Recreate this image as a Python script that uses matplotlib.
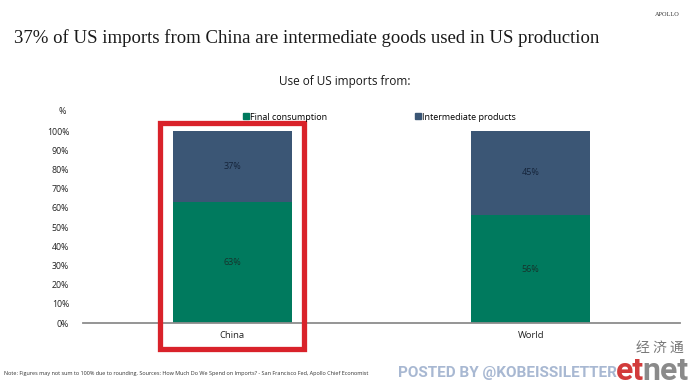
import matplotlib.pyplot as plt
from matplotlib.patches import Rectangle
from matplotlib.lines import Line2D

# data
categories = ['China', 'World']
final_consumption = [63, 56]
intermediate = [37, 45]
yticks = [0, 10, 20, 30, 40, 50, 60, 70, 80, 90, 100]

green = '#007a5e'
navy = '#3b5675'

plt.rcParams['font.family'] = ['Open Sans', 'DejaVu Sans']

fig = plt.figure(figsize=(6.9, 3.86), dpi=100)
ax = fig.add_axes([0.1203, 0.1632, 0.8652, 0.4974])

x = list(range(len(categories)))
ax.bar(x, final_consumption, width=0.4, color=green, zorder=2)
ax.bar(x, intermediate, width=0.4, bottom=final_consumption, color=navy, zorder=2)

for i in x:
    ax.text(i, final_consumption[i] / 2, f'{final_consumption[i]}%', ha='center', va='center',
            fontsize=6.5, color='#17332c')
    ax.text(i, final_consumption[i] + intermediate[i] / 2, f'{intermediate[i]}%', ha='center',
            va='center', fontsize=6.5, color='#15243a')

ax.set_xlim(-0.5, 1.5)
ax.set_ylim(0, 100)
ax.set_yticks(yticks)
ax.set_yticklabels([f'{t}%' for t in yticks], fontsize=6.3, color='#222222')
ax.set_xticks(x)
ax.set_xticklabels(categories, fontsize=6.8, color='#222222')
ax.tick_params(axis='y', length=0, pad=10)
ax.tick_params(axis='x', length=0, pad=6)
for s in ['top', 'right', 'left']:
    ax.spines[s].set_visible(False)
ax.spines['bottom'].set_color('#8c8c8c')
ax.spines['bottom'].set_linewidth(1.3)
ax.spines['bottom'].set_zorder(3)

# red highlight box around China
ax.add_patch(Rectangle((-0.243, -13.5), 0.483, 117.7, fill=False, edgecolor='#d9222a',
                       linewidth=3.8, clip_on=False, zorder=4))

fig.text(62 / 690, 1 - 111 / 386, '%', fontsize=6.5, ha='center', va='center', color='#222222')

handles = [Line2D([], [], marker='s', linestyle='', color=green, markersize=4),
           Line2D([], [], marker='s', linestyle='', color=navy, markersize=4)]
fig.legend(handles, ['Final consumption', 'Intermediate products'], loc='center',
           bbox_to_anchor=(379 / 690, 1 - 117 / 386), ncol=2, frameon=False, fontsize=6.5,
           handletextpad=0.1, columnspacing=9.6, handlelength=0.8)

fig.text(14 / 690, 1 - 38 / 386, '37% of US imports from China are intermediate goods used in US production',
         fontsize=13.5, family='Liberation Serif', ha='left', va='center', color='#1a1a1a')
fig.text(345 / 690, 1 - 82 / 386, 'Use of US imports from:', fontsize=8.5, ha='center', va='center',
         color='#1a1a1a')
fig.text(680 / 690, 1 - 14 / 386, 'APOLLO', fontsize=4.5, family='Liberation Serif', ha='right',
         va='center', color='#333333')

fig.text(4 / 690, 1 - 374 / 386,
         'Note: Figures may not sum to 100% due to rounding. Sources: How Much Do We Spend on Imports? - '
         'San Francisco Fed, Apollo Chief Economist',
         fontsize=4.0, ha='left', va='center', color='#333333')

# watermark
fig.text(398 / 690, 1 - 373 / 386, 'POSTED BY @KOBEISSILETTER', fontsize=11, fontweight='bold',
         family='Roboto', ha='left', va='center', color='#a8b8d2')
fig.text(684 / 690, 1 - 348 / 386, '经 济 通', fontsize=10, family=['Noto Sans CJK SC', 'DejaVu Sans'],
         ha='right', va='center', color='#777777')
net = fig.text(689 / 690, 1 - 371 / 386, 'net', fontsize=23, fontweight='bold', family='Roboto',
               ha='right', va='center', color='#8a8a8a')
fig.canvas.draw()
bb = net.get_window_extent()
fig.text(bb.x0 / 690 + 0.002, 1 - 371 / 386, 'et', fontsize=23, fontweight='bold', family='Roboto',
         ha='right', va='center', color='#d23b3b')

fig.savefig('out.png', dpi=100)
